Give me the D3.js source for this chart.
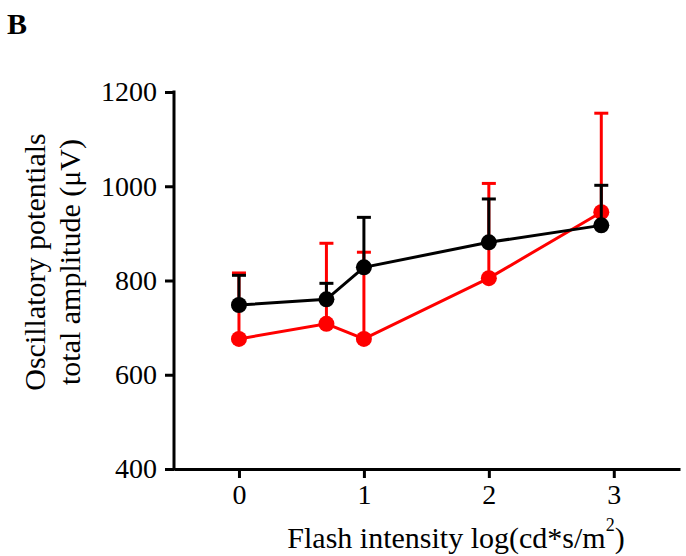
<!DOCTYPE html>
<html lang="en">
<head>
  <meta charset="UTF-8">
  <title>Oscillatory potentials</title>
  <script src="https://d3js.org/d3.v7.min.js"></script>
  <style>
    body { margin: 0; background: #fff; }
  </style>
</head>
<body>
  <svg width="686" height="556" id="chart"></svg>
  <script>
    // flash intensity, log(cd*s/m2)
    const intensity = [0, 0.7, 1, 2, 2.9];
    // black group: mean and upper error
    const blackMean = [748, 760, 828, 881, 917];
    const blackErr = [63, 34, 106, 92, 85];
    // red group
    const redMean = [676, 708, 676, 805, 945];
    const redErr = [140, 171, 184, 201, 210];
    const yTicks = [400, 600, 800, 1000, 1200];
    const xTicks = [0, 1, 2, 3];

    const svg = d3.select('#chart');
    const font = '"Liberation Serif", "Times New Roman", serif';

    const x = d3.scaleLinear().domain([-0.52, 3.53]).range([174, 680]);
    const y = d3.scaleLinear().domain([400, 1200]).range([469, 92]);

    // axes
    const yAxis = d3.axisLeft(y).tickValues(yTicks).tickFormat(d3.format('d'))
      .tickSize(9).tickSizeOuter(0).tickPadding(8);
    const gy = svg.append('g').attr('transform', 'translate(174,0)').call(yAxis);

    const xAxis = d3.axisBottom(x).tickValues(xTicks).tickFormat(d3.format('d'))
      .tickSize(9).tickSizeOuter(0).tickPadding(6);
    const gx = svg.append('g').attr('transform', 'translate(0,469)').call(xAxis);

    [gx, gy].forEach(g => {
      g.select('.domain').attr('stroke', '#000').attr('stroke-width', 3);
      g.selectAll('.tick line').attr('stroke', '#000').attr('stroke-width', 3);
      g.selectAll('.tick text')
        .attr('fill', '#000')
        .style('font-family', font)
        .style('font-size', '28px');
    });
    // y axis line reaches down to the x axis
    gy.select('.domain').attr('d', `M0,${y(1200) - 1.5}V${y(400) + 1.5}`);

    // series, red first so black sits on top
    const series = [
      { mean: redMean, err: redErr, color: '#ff0000' },
      { mean: blackMean, err: blackErr, color: '#000000' }
    ];

    const line = d3.line().x(d => x(d.x)).y(d => y(d.v));

    series.forEach(s => {
      const pts = intensity.map((v, i) => ({ x: v, v: s.mean[i], e: s.err[i] }));
      const g = svg.append('g');

      // upward error bars
      pts.forEach(p => {
        g.append('line')
          .attr('x1', x(p.x)).attr('x2', x(p.x))
          .attr('y1', y(p.v)).attr('y2', y(p.v + p.e))
          .attr('stroke', s.color).attr('stroke-width', 3);
        g.append('line')
          .attr('x1', x(p.x) - 7).attr('x2', x(p.x) + 7)
          .attr('y1', y(p.v + p.e)).attr('y2', y(p.v + p.e))
          .attr('stroke', s.color).attr('stroke-width', 3);
      });

      g.append('path')
        .datum(pts)
        .attr('d', line)
        .attr('fill', 'none')
        .attr('stroke', s.color)
        .attr('stroke-width', 3);

      g.selectAll('circle')
        .data(pts)
        .join('circle')
        .attr('cx', d => x(d.x))
        .attr('cy', d => y(d.v))
        .attr('r', 8)
        .attr('fill', s.color);
    });

    // titles
    svg.append('text')
      .text('B')
      .attr('x', 7).attr('y', 34)
      .style('font-family', font)
      .style('font-size', '30px')
      .style('font-weight', 'bold');

    const xt = svg.append('text')
      .attr('x', 456).attr('y', 548)
      .attr('text-anchor', 'middle')
      .style('font-family', font)
      .style('font-size', '30px');
    xt.append('tspan').text('Flash intensity log(cd*s/m');
    xt.append('tspan').text('2').attr('dy', -17).style('font-size', '18px');
    xt.append('tspan').text(')').attr('dy', 17);

    const yl = svg.append('text')
      .attr('transform', 'translate(0,262) rotate(-90)')
      .attr('text-anchor', 'middle')
      .style('font-family', font)
      .style('font-size', '30px');
    yl.append('tspan').attr('x', 0).attr('y', 45).text('Oscillatory potentials');
    yl.append('tspan').attr('x', 0).attr('y', 80).text('total amplitude (\u03bcV)');
  </script>
</body>
</html>
